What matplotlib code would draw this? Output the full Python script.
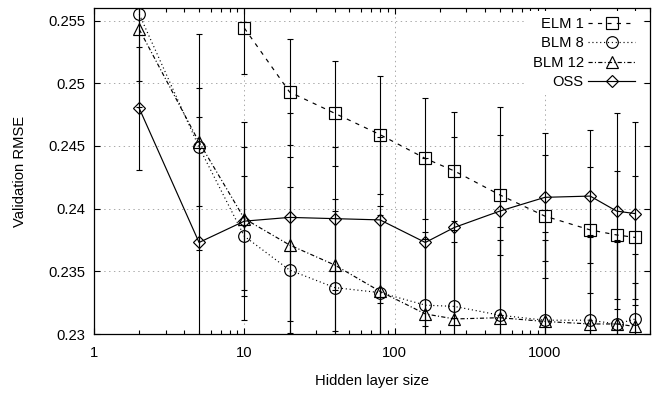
import matplotlib
matplotlib.use("Agg")
import matplotlib.pyplot as plt
from matplotlib.lines import Line2D
from matplotlib.ticker import FixedLocator, LogLocator, NullFormatter, FixedFormatter

# hidden layer sizes
sizes = [2, 5, 10, 20, 40, 80, 160, 250, 500, 1000, 2000, 3000, 4000]
elm_sizes = sizes[2:]

elm1 = [0.2544, 0.2493, 0.2476, 0.2459, 0.2440, 0.2430, 0.2411, 0.2394, 0.2383, 0.2379, 0.2377]
elm1_err = [0.0037, 0.0042, 0.0042, 0.0047, 0.0048, 0.0047, 0.0048, 0.0049, 0.0050, 0.0051, 0.0049]

blm8 = [0.2555, 0.2449, 0.2378, 0.2351, 0.2337, 0.2333, 0.2323, 0.2322, 0.2315, 0.2311, 0.2311, 0.2308, 0.2312]
blm8_err = [0.0053, 0.0047, 0.0048, 0.0066, 0.0061, 0.0062, 0.0053, 0.0068, 0.0070, 0.0070, 0.0068, 0.0065, 0.0052]

blm12 = [0.2543, 0.2453, 0.2392, 0.2371, 0.2355, 0.2334, 0.2316, 0.2312, 0.2313, 0.2310, 0.2308, 0.2308, 0.2306]
blm12_err = [0.0062, 0.0086, 0.0057, 0.0070, 0.0053, 0.0068, 0.0065, 0.0061, 0.0062, 0.0065, 0.0069, 0.0067, 0.0035]

oss = [0.2480, 0.2373, 0.2390, 0.2393, 0.2392, 0.2391, 0.2373, 0.2385, 0.2398, 0.2409, 0.2410, 0.2398, 0.2396]
oss_err = [0.0049, 0.0100, 0.0079, 0.0083, 0.0057, 0.0066, 0.0067, 0.0072, 0.0083, 0.0051, 0.0053, 0.0078, 0.0073]

series_labels = ["ELM 1", "BLM 8", "BLM 12", "OSS"]
y_ticks = [0.23, 0.235, 0.24, 0.245, 0.25, 0.255]
y_tick_labels = ["0.23", "0.235", "0.24", "0.245", "0.25", "0.255"]
x_ticks = [1, 10, 100, 1000]
x_tick_labels = ["1", "10", "100", "1000"]

plt.rcParams["font.family"] = ["Liberation Sans", "DejaVu Sans"]
plt.rcParams["font.size"] = 10.6
plt.rcParams["lines.scale_dashes"] = False


def main():
    fig = plt.figure(figsize=(6.57, 3.93), dpi=100)
    ax = fig.add_axes([94 / 657, 1 - 334 / 393, 556 / 657, 326 / 393])

    styles = [
        dict(marker="s", ms=8.2, dashes=(3.0, 3.8)),
        dict(marker="o", ms=8.4, dashes=(0.8, 2.0)),
        dict(marker="^", ms=8.4, dashes=(3.0, 1.6, 0.8, 1.6)),
        dict(marker="D", ms=5.8, ls="-"),
    ]
    data = [(elm_sizes, elm1, elm1_err), (sizes, blm8, blm8_err),
            (sizes, blm12, blm12_err), (sizes, oss, oss_err)]

    handles = []
    for (xs, ys, es), st, lab in zip(data, styles, series_labels):
        # error bars first, solid
        ax.errorbar(xs, ys, yerr=es, fmt="none", ecolor="black", elinewidth=0.8,
                    capsize=2.3, capthick=0.8, zorder=2)
        ax.plot(xs, ys, color="black", lw=0.85, mfc="none", mec="black",
                mew=0.85, zorder=3, **st)
        handles.append(Line2D([], [], color="black", lw=0.85, mfc="none", mec="black",
                              mew=0.85, **st))

    ax.set_xscale("log")
    ax.set_xlim(1, 5000)
    ax.set_ylim(0.23, 0.256)

    ax.xaxis.set_major_locator(FixedLocator(x_ticks))
    ax.xaxis.set_major_formatter(FixedFormatter(x_tick_labels))
    ax.xaxis.set_minor_locator(LogLocator(base=10, subs=range(2, 10)))
    ax.xaxis.set_minor_formatter(NullFormatter())
    ax.yaxis.set_major_locator(FixedLocator(y_ticks))
    ax.yaxis.set_major_formatter(FixedFormatter(y_tick_labels))

    ax.tick_params(which="both", direction="in", top=True, right=True, width=0.8)
    ax.tick_params(which="major", length=4.5)
    ax.tick_params(which="minor", length=2.6)
    ax.tick_params(axis="x", which="major", pad=8.5)
    ax.tick_params(axis="y", which="major", pad=6.5)
    for sp in ax.spines.values():
        sp.set_linewidth(0.9)

    ax.grid(True, which="major", color="#a8a8a8", lw=0.7, ls=(0, (1, 2.5)), zorder=0)
    ax.set_axisbelow(True)

    ax.set_xlabel("Hidden layer size", va="center")
    ax.xaxis.set_label_coords(0.5, -0.144)
    ax.set_ylabel("Validation RMSE", va="center")
    ax.yaxis.set_label_coords(-0.133, 0.5)

    leg = ax.legend(handles, series_labels, loc="upper right", bbox_to_anchor=(0.984, 0.991),
                    markerfirst=False, handlelength=3.2, handletextpad=0.3,
                    labelspacing=0.37, borderpad=0.4, borderaxespad=0,
                    frameon=True, fancybox=False, framealpha=1)
    leg.get_frame().set_facecolor("white")
    leg.get_frame().set_edgecolor("none")
    leg.set_zorder(5)

    fig.savefig("out.png", dpi=100)
    plt.close(fig)


if __name__ == "__main__":
    main()
